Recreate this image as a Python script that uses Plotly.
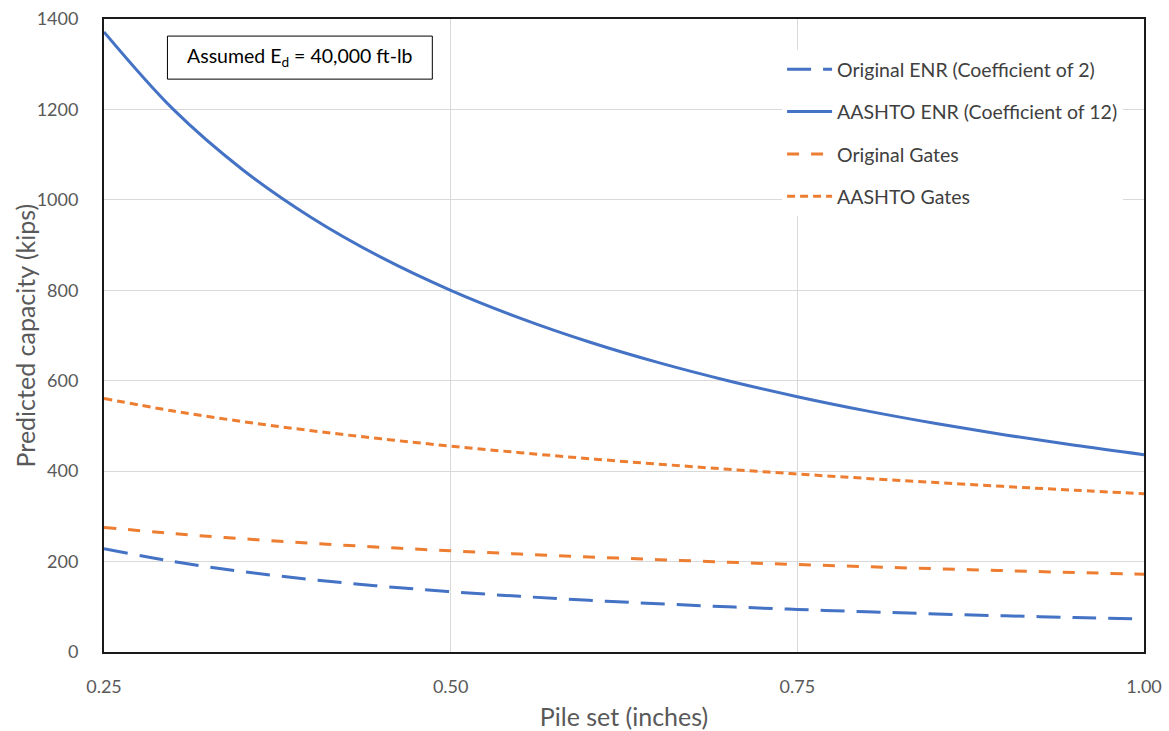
import plotly.graph_objects as go

# Pile set (inches)
pile_set = [0.25, 0.30, 0.35, 0.40, 0.45, 0.50, 0.55, 0.60,
            0.65, 0.70, 0.75, 0.80, 0.85, 0.90, 0.95, 1.00]

# Predicted capacity (kips) for each driving formula
original_enr = [228.6, 200.0, 177.8, 160.0, 145.5, 133.3, 123.1, 114.3,
                106.7, 100.0, 94.1, 88.9, 84.2, 80.0, 76.2, 72.7]
aashto_enr = [1371.4, 1200.0, 1066.7, 960.0, 872.7, 800.0, 738.5, 685.7,
              640.0, 600.0, 564.7, 533.3, 505.3, 480.0, 457.1, 436.4]
original_gates = [275.6, 261.9, 250.4, 240.4, 231.6, 223.8, 216.7, 210.2,
                  204.2, 198.6, 193.5, 188.7, 184.1, 179.9, 175.8, 172.0]
aashto_gates = [560.7, 533.0, 509.6, 489.3, 471.4, 455.4, 440.9, 427.6,
                415.5, 404.2, 393.7, 383.9, 374.7, 366.0, 357.8, 350.0]

x_ticks = [0.25, 0.50, 0.75, 1.00]
x_tick_labels = ["0.25", "0.50", "0.75", "1.00"]
y_ticks = [0, 200, 400, 600, 800, 1000, 1200, 1400]

BLUE = "#4472C4"
ORANGE = "#ED7D31"
FONT = "Lato, Carlito, Calibri, sans-serif"
GREY = "#595959"

series = [
    ("Original ENR (Coefficient of 2)", original_enr, BLUE, "24px,12px"),
    ("AASHTO ENR (Coefficient of 12)", aashto_enr, BLUE, "solid"),
    ("Original Gates", original_gates, ORANGE, "12px,12px"),
    ("AASHTO Gates", aashto_gates, ORANGE, "8px,5px"),
]

fig = go.Figure()
for i, (name, vals, color, dash) in enumerate(series):
    fig.add_trace(go.Scatter(
        x=pile_set, y=vals, name=name, mode="lines",
        legendgroup=f"g{i}",
        line=dict(color=color, width=3, dash=dash, shape="spline", smoothing=1.0),
    ))

fig.update_layout(
    width=1169, height=731,
    margin=dict(l=104, r=25, t=19, b=79),
    paper_bgcolor="white", plot_bgcolor="white",
    font=dict(family=FONT, size=18, color=GREY),
    showlegend=True,
    legend=dict(
        x=0.652, y=0.951, xanchor="left", yanchor="top",
        bgcolor="white", borderwidth=0,
        font=dict(family=FONT, size=19.5, color="#404040"),
        tracegroupgap=14, itemwidth=45,
    ),
    xaxis=dict(
        range=[0.25, 1.00], tickvals=x_ticks, ticktext=x_tick_labels,
        showgrid=True, gridcolor="#D9D9D9", gridwidth=1,
        showline=True, linecolor="#1a1a1a", linewidth=2, mirror=True,
        ticks="", ticklabelstandoff=17, zeroline=False, automargin=False,
        tickfont=dict(size=18, color=GREY),
        title=dict(text="Pile set (inches)", font=dict(size=25, color=GREY), standoff=14),
    ),
    yaxis=dict(
        range=[0, 1400], tickvals=y_ticks,
        showgrid=True, gridcolor="#D9D9D9", gridwidth=1,
        showline=True, linecolor="#1a1a1a", linewidth=2, mirror=True,
        ticks="", ticklabelstandoff=20, zeroline=False, automargin=False,
        tickfont=dict(size=18, color=GREY),
    ),
    shapes=[dict(
        type="rect", xref="paper", yref="paper",
        x0=0.061, x1=0.3157, y0=0.905, y1=0.973,
        line=dict(color="black", width=1), fillcolor="white", layer="above",
    )],
    annotations=[
        dict(
            xref="paper", yref="paper", x=0.188, y=0.9395,
            text="Assumed E<sub>d</sub> = 40,000 ft-lb", showarrow=False,
            font=dict(family=FONT, size=19.5, color="black"),
            xanchor="center", yanchor="middle",
        ),
        dict(
            xref="paper", yref="paper", x=-0.076, y=0.5,
            text="Predicted capacity (kips)", showarrow=False, textangle=-90,
            font=dict(family=FONT, size=25, color=GREY),
            xanchor="center", yanchor="middle",
        ),
    ],
)

fig.write_html("out.html")
